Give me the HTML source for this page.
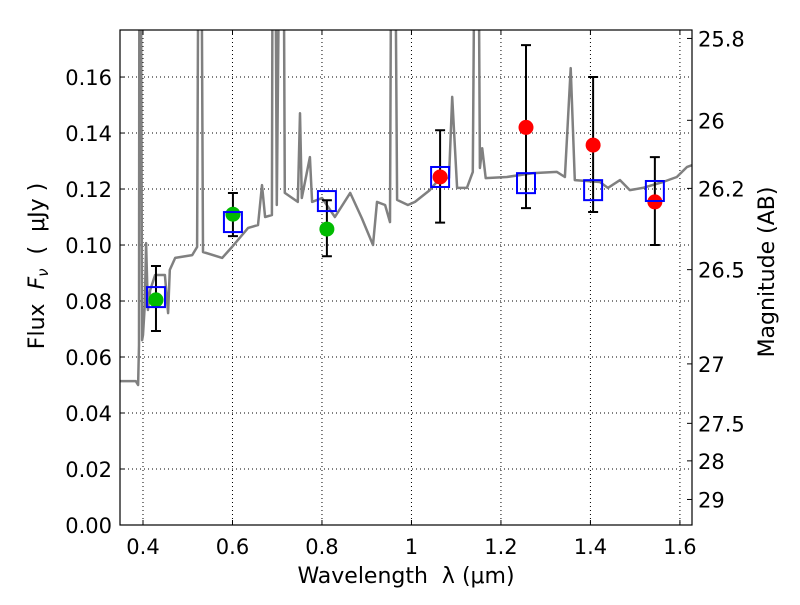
<!DOCTYPE html>
<html><head><meta charset="utf-8"><style>
body{margin:0;background:#fff}
svg text{font-family:"DejaVu Sans","Liberation Sans",sans-serif;fill:#000}
</style></head><body>
<svg id="chart" width="800" height="600" xmlns="http://www.w3.org/2000/svg">
<defs><clipPath id="clip"><rect x="120" y="30" width="572" height="495"/></clipPath></defs>
<rect x="0" y="0" width="800" height="600" fill="#fff"/>
<g id="grid"></g>
<g id="spec" clip-path="url(#clip)"></g>
<g id="marks" clip-path="url(#clip)"></g>
<rect x="120" y="30" width="572" height="495" fill="none" stroke="#000" stroke-width="1.2"/>
<g id="axes"></g>
<text x="406" y="583" font-size="22" text-anchor="middle" xml:space="preserve">Wavelength  λ (μm)</text>
<text transform="translate(44,266) rotate(-90)" font-size="22" text-anchor="middle" xml:space="preserve">Flux  <tspan font-style="italic">F</tspan><tspan font-size="15" font-style="italic" dy="4">ν</tspan><tspan dy="-4">  (  μJy )</tspan></text>
<text transform="translate(774,272) rotate(-90)" font-size="22" text-anchor="middle">Magnitude (AB)</text>
</svg>
<script>
const specWl=[0.349,0.384,0.389,0.391,0.3925,0.3935,0.398,0.400,0.404,0.407,0.411,0.416,0.427,0.449,0.456,0.460,0.472,0.510,0.521,0.526,0.528,0.534,0.577,0.599,0.635,0.657,0.666,0.673,0.688,0.691,0.693,0.699,0.710,0.712,0.717,0.746,0.751,0.755,0.773,0.778,0.800,0.829,0.863,0.889,0.914,0.923,0.941,0.952,0.957,0.960,0.968,0.992,1.008,1.041,1.064,1.084,1.091,1.102,1.124,1.137,1.145,1.147,1.153,1.158,1.166,1.213,1.272,1.325,1.343,1.356,1.365,1.421,1.439,1.466,1.488,1.517,1.562,1.593,1.616,1.629];
const specFlux=[0.0514,0.0514,0.050,0.0643,0.3,0.3,0.066,0.0679,0.0786,0.1007,0.0768,0.0839,0.0893,0.0893,0.0757,0.0911,0.0954,0.0964,0.0993,0.3,0.3,0.0975,0.0954,0.0993,0.1061,0.1071,0.1214,0.110,0.1107,0.3,0.3,0.1143,0.3,0.3,0.1186,0.1154,0.1471,0.1168,0.1314,0.1154,0.1168,0.110,0.1186,0.1096,0.100,0.1154,0.1143,0.1082,0.3,0.3,0.1161,0.1143,0.1154,0.1196,0.1239,0.1239,0.1529,0.1204,0.1204,0.1261,0.3,0.3,0.1275,0.1346,0.1239,0.1243,0.1257,0.1261,0.1243,0.1632,0.1232,0.1225,0.1204,0.1232,0.1196,0.1204,0.1225,0.1243,0.1279,0.1286];
const obsWl=[0.429,0.601,0.811,1.064,1.256,1.406,1.544];
const obsFlux=[0.0804,0.111,0.1057,0.1243,0.142,0.1357,0.1154];
const obsHi=[0.0925,0.1186,0.116,0.141,0.1714,0.160,0.1314];
const obsLo=[0.0693,0.1032,0.096,0.108,0.1132,0.1118,0.100];
const obsColor=['#00bb00','#00bb00','#00bb00','#ff0000','#ff0000','#ff0000','#ff0000'];
const modelFlux=[0.0814,0.1082,0.1157,0.1243,0.1221,0.1196,0.1193];
const xTicks=[0.4,0.6,0.8,1.0,1.2,1.4,1.6];
const xTickLabels=['0.4','0.6','0.8','1','1.2','1.4','1.6'];
const yTicks=[0,0.02,0.04,0.06,0.08,0.10,0.12,0.14,0.16];
const yTickLabels=['0.00','0.02','0.04','0.06','0.08','0.10','0.12','0.14','0.16'];
const magTicks=[25.8,26,26.2,26.5,27,27.5,28,29];
const magTickLabels=['25.8','26','26.2','26.5','27','27.5','28','29'];

const NS='http://www.w3.org/2000/svg';
const X0=0.3486,X1=1.627,PX0=120,PX1=692,Y0=0,Y1=0.1768,PY0=525,PY1=30;
const xs=v=>PX0+(v-X0)/(X1-X0)*(PX1-PX0);
const ys=v=>PY0-(v-Y0)/(Y1-Y0)*(PY0-PY1);
const magToFlux=m=>Math.pow(10,(23.9-m)/2.5);
function mk(tag,attrs,parent){const e=document.createElementNS(NS,tag);for(const k in attrs)e.setAttribute(k,attrs[k]);parent.appendChild(e);return e;}
const grid=document.getElementById('grid'),axes=document.getElementById('axes'),spec=document.getElementById('spec'),marks=document.getElementById('marks');

xTicks.forEach((t,i)=>{const x=xs(t);
 const g=mk('line',{x1:x,x2:x,y1:PY1,y2:PY0,stroke:'#000','stroke-width':1,'stroke-dasharray':'1,3'},grid);
 
 
 const a=mk('line',{x1:x,x2:x,y1:PY0,y2:PY0-5,stroke:'#000'},axes);
 
 
 const b=mk('line',{x1:x,x2:x,y1:PY1,y2:PY1+5,stroke:'#000'},axes);
 
 
 const tx=mk('text',{x:x,y:554,'font-size':21,'text-anchor':'middle'},axes);tx.textContent=xTickLabels[i];
 
 
});
yTicks.forEach((t,i)=>{const y=ys(t);
 if(t>0){const g=mk('line',{x1:PX0,x2:PX1,y1:y,y2:y,stroke:'#000','stroke-width':1,'stroke-dasharray':'1,3'},grid);
 
 }
 const a=mk('line',{x1:PX0,x2:PX0+5,y1:y,y2:y,stroke:'#000'},axes);
 
 
 const tx=mk('text',{x:112,y:y+8,'font-size':21,'text-anchor':'end'},axes);tx.textContent=yTickLabels[i];
 
 
});
magTicks.forEach((m,i)=>{const y=ys(magToFlux(m));
 const a=mk('line',{x1:PX1-5,x2:PX1,y1:y,y2:y,stroke:'#000'},axes);
 
 
 const tx=mk('text',{x:698,y:y+8,'font-size':21,'text-anchor':'start'},axes);tx.textContent=magTickLabels[i];
 
 
});
let d='';specWl.forEach((w,i)=>{d+=(i?'L':'M')+xs(w).toFixed(1)+','+ys(specFlux[i]).toFixed(1);});
const sp=mk('path',{d:d,fill:'none',stroke:'#808080','stroke-width':2.5,'stroke-linejoin':'round'},spec);


obsWl.forEach((w,i)=>{const x=xs(w);
 const e=mk('path',{d:`M${x},${ys(obsLo[i])}L${x},${ys(obsHi[i])}M${x-5},${ys(obsLo[i])}L${x+5},${ys(obsLo[i])}M${x-5},${ys(obsHi[i])}L${x+5},${ys(obsHi[i])}`,stroke:'#000','stroke-width':2,fill:'none'},marks);
 
 
 const c=mk('circle',{cx:x,cy:ys(obsFlux[i]),r:7.5,fill:obsColor[i]},marks);
 
 
 const s=mk('rect',{x:x-9,y:ys(modelFlux[i])-10,width:18,height:20,fill:'none',stroke:'#0000ff','stroke-width':2},marks);
 
 
});
</script>
</body></html>
